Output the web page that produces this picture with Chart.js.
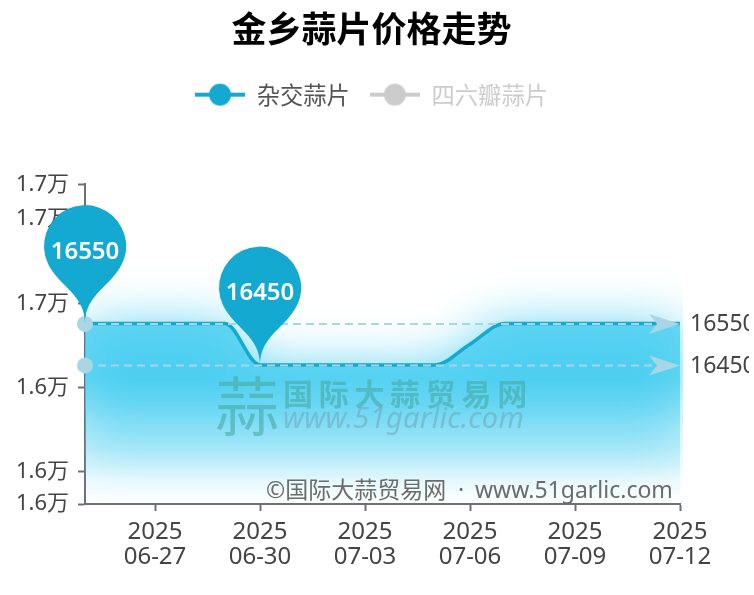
<!DOCTYPE html>
<html>
<head>
<meta charset="utf-8">
<title>金乡蒜片价格走势</title>
<script src="https://cdn.jsdelivr.net/npm/chart.js@4/dist/chart.umd.min.js"></script>
<style>
    html, body { margin: 0; padding: 0; background: #fff; }
    #wrap { position: relative; width: 749px; height: 595px; }
</style>
</head>
<body>
<div id="wrap"><canvas id="priceChart"></canvas></div>
<script>
var dates = ["2025-06-25", "2025-06-26", "2025-06-27", "2025-06-28", "2025-06-29", "2025-06-30",
    "2025-07-01", "2025-07-02", "2025-07-03", "2025-07-04", "2025-07-05", "2025-07-06",
    "2025-07-07", "2025-07-08", "2025-07-09", "2025-07-10", "2025-07-11", "2025-07-12"];
var hybridValues = [16550, 16550, 16550, 16550, 16550, 16450,
    16450, 16450, 16450, 16450, 16450, 16500,
    16550, 16550, 16550, 16550, 16550, 16550];
var sixCloveValues = []; // series is switched off in the legend
var xTickDates = ["2025-06-27", "2025-06-30", "2025-07-03", "2025-07-06", "2025-07-09", "2025-07-12"];
var yTickValues = [16115, 16193, 16396, 16598, 16803, 16885];

var BLUE = "#14a9d1";
var MARK = "#a9d6e5";
var FONT = '"Noto Sans", "Noto Sans CJK SC", sans-serif';
var CJK = '"Noto Sans CJK SC", sans-serif';

// legend icon: short line with a dot on it
function legendIcon(color) {
    var c = document.createElement("canvas");
    c.width = 50;
    c.height = 24;
    var x = c.getContext("2d");
    x.fillStyle = color;
    x.fillRect(0, 10, 50, 4);
    x.beginPath();
    x.arc(25, 12, 11, 0, Math.PI * 2);
    x.fill();
    return c;
}

// same outline as an echarts "pin" symbol, tip at (x, y)
function pinPath(ctx, x, y, r, h) {
    var dy = r * r / (h - r);
    var cy = y - h + r + dy;
    var angle = Math.asin(dy / r);
    var dx = Math.cos(angle) * r;
    var tanX = Math.sin(angle);
    var tanY = Math.cos(angle);
    var cpLen = r * 0.6;
    var cpLen2 = r * 0.7;
    ctx.beginPath();
    ctx.moveTo(x - dx, cy + dy);
    ctx.arc(x, cy, r, Math.PI - angle, Math.PI * 2 + angle);
    ctx.bezierCurveTo(x + dx - tanX * cpLen, cy + dy + tanY * cpLen, x, y - cpLen2, x, y);
    ctx.bezierCurveTo(x, y - cpLen2, x - dx + tanX * cpLen, cy + dy + tanY * cpLen, x - dx, cy + dy);
    ctx.closePath();
    return cy;
}

var legendGap = {
    id: "legendGap",
    beforeInit: function (chart) {
        var fit = chart.legend.fit;
        chart.legend.fit = function () {
            fit.call(this);
            this.height += 68;
        };
    }
};

// area under the line, with the blur that spills above it
var glowArea = {
    id: "glowArea",
    beforeDatasetsDraw: function (chart) {
        var ctx = chart.ctx;
        var area = chart.chartArea;
        var y = chart.scales.y;
        var line = chart.getDatasetMeta(0).dataset;
        var top = y.getPixelForValue(Math.max.apply(null, hybridValues));
        var grad = ctx.createLinearGradient(0, top, 0, area.bottom);
        // the shadow stacks on the fill, so these alphas are lower than what shows
        grad.addColorStop(0, "rgba(70,205,240,0.8)");
        grad.addColorStop(0.3, "rgba(70,205,240,0.8)");
        grad.addColorStop(0.42, "rgba(70,205,240,0.62)");
        grad.addColorStop(0.54, "rgba(70,205,240,0.45)");
        grad.addColorStop(0.7, "rgba(70,205,240,0.28)");
        grad.addColorStop(0.87, "rgba(70,205,240,0.08)");
        grad.addColorStop(1, "rgba(70,205,240,0)");

        ctx.save();
        ctx.beginPath();
        ctx.rect(area.left, area.top, area.right - area.left + 3, area.bottom - area.top);
        ctx.clip();
        line.updateControlPoints(area, "x");
        ctx.beginPath();
        line.path(ctx);
        ctx.lineTo(area.right, area.bottom);
        ctx.lineTo(area.left, area.bottom);
        ctx.closePath();
        ctx.shadowColor = "#46cdf0";
        ctx.shadowBlur = 50;
        ctx.fillStyle = grad;
        ctx.fill();
        ctx.restore();

        // watermark sits between the area and the line
        ctx.save();
        ctx.textBaseline = "middle";
        ctx.fillStyle = "rgba(70,170,165,0.6)";
        ctx.font = "64px " + CJK;
        ctx.fillText("蒜", 215, 406);
        ctx.font = "bold 30px " + CJK;
        ctx.letterSpacing = "5.7px";
        ctx.fillText("国际大蒜贸易网", 283, 394);
        ctx.letterSpacing = "0px";
        ctx.fillStyle = "rgba(110,170,190,0.6)";
        ctx.font = "italic 29px " + FONT;
        ctx.letterSpacing = "0.3px";
        ctx.fillText("www.51garlic.com", 283, 420);
        ctx.letterSpacing = "0px";
        ctx.fillStyle = "#6b6b6b";
        ctx.font = "23px " + FONT;
        ctx.fillText("©国际大蒜贸易网", 266, 491);
        ctx.fillText("·", 458, 491);
        ctx.fillText("www.51garlic.com", 475, 491);
        ctx.restore();
    }
};

// mark lines and mark points, placed through the chart's scales
var marks = {
    id: "marks",
    afterDatasetsDraw: function (chart) {
        var ctx = chart.ctx;
        var area = chart.chartArea;
        var xs = chart.scales.x;
        var ys = chart.scales.y;
        var maxVal = Math.max.apply(null, hybridValues);
        var minVal = Math.min.apply(null, hybridValues);

        ctx.save();
        [maxVal, minVal].forEach(function (v) {
            var py = ys.getPixelForValue(v) + 0.5;
            ctx.strokeStyle = MARK;
            ctx.lineWidth = 2;
            ctx.setLineDash([8, 5]);
            ctx.beginPath();
            ctx.moveTo(area.left, py);
            ctx.lineTo(area.right - 20, py);
            ctx.stroke();
            ctx.setLineDash([]);

            ctx.fillStyle = MARK;
            ctx.beginPath();
            ctx.arc(area.left, py, 8, 0, Math.PI * 2);
            ctx.fill();

            ctx.beginPath();
            ctx.moveTo(area.right, py);
            ctx.lineTo(area.right - 31, py - 10);
            ctx.lineTo(area.right - 23, py);
            ctx.lineTo(area.right - 31, py + 10);
            ctx.closePath();
            ctx.fill();

            ctx.fillStyle = "#444";
            ctx.font = "23px " + FONT;
            ctx.textBaseline = "middle";
            ctx.fillText(String(v), area.right + 10, py + 1);
        });

        [maxVal, minVal].forEach(function (v) {
            var i = hybridValues.indexOf(v);
            var tipX = xs.getPixelForValue(i);
            var tipY = ys.getPixelForValue(v);
            var cy = pinPath(ctx, tipX, tipY, 41, 136);
            ctx.fillStyle = BLUE;
            ctx.fill();
            ctx.fillStyle = "#fff";
            ctx.font = "600 24px " + FONT;
            ctx.textAlign = "center";
            ctx.textBaseline = "middle";
            ctx.fillText(String(v), tipX, cy + 6);
            ctx.textAlign = "left";
        });
        ctx.restore();
    }
};

var chart = new Chart(document.getElementById("priceChart"), {
    type: "line",
    plugins: [legendGap, glowArea, marks],
    data: {
        labels: dates,
        datasets: [{
            label: "杂交蒜片",
            data: hybridValues,
            borderColor: BLUE,
            borderWidth: 3.5,
            pointRadius: 0,
            cubicInterpolationMode: "monotone",
            fill: false
        }, {
            label: "四六瓣蒜片",
            data: sixCloveValues,
            hidden: true,
            borderColor: "#ccc",
            pointRadius: 0
        }]
    },
    options: {
        responsive: true,
        maintainAspectRatio: false,
        animation: false,
        layout: { padding: { top: 8, right: 6, left: 0, bottom: 0 } },
        plugins: {
            tooltip: { enabled: false },
            title: {
                display: true,
                text: "金乡蒜片价格走势",
                color: "#000",
                font: { family: CJK, size: 35, weight: "bold", lineHeight: 1.2 },
                padding: { top: 0, bottom: 13 }
            },
            legend: {
                display: true,
                labels: {
                    usePointStyle: true,
                    pointStyleWidth: 50,
                    padding: 20,
                    font: { family: CJK, size: 23.3 },
                    generateLabels: function () {
                        return [
                            { text: "杂交蒜片", fontColor: "#555", pointStyle: legendIcon(BLUE), datasetIndex: 0 },
                            { text: "四六瓣蒜片", fontColor: "#ccc", pointStyle: legendIcon("#ccc"), datasetIndex: 1 }
                        ];
                    }
                }
            }
        },
        scales: {
            x: {
                type: "category",
                afterBuildTicks: function (axis) {
                    axis.ticks = axis.ticks.filter(function (t) {
                        return xTickDates.indexOf(dates[t.value]) >= 0;
                    });
                },
                afterFit: function (axis) { axis.height = 91; },
                border: { color: "#6e7079", width: 2 },
                grid: { drawOnChartArea: false, tickColor: "#6e7079", tickWidth: 2, tickLength: 7 },
                ticks: {
                    autoSkip: false,
                    maxRotation: 0,
                    padding: 9,
                    color: "#444",
                    font: { family: FONT, size: 24, lineHeight: 1.04 },
                    callback: function (value) {
                        var d = dates[value];
                        return [d.slice(0, 4), d.slice(5)];
                    }
                }
            },
            y: {
                min: 16115,
                max: 16885,
                afterBuildTicks: function (axis) {
                    axis.ticks = yTickValues.map(function (v) { return { value: v }; });
                },
                afterFit: function (axis) { axis.width = 85; },
                border: { color: "#6e7079", width: 2 },
                grid: { drawOnChartArea: false, tickColor: "#6e7079", tickWidth: 2, tickLength: 7 },
                ticks: {
                    padding: 9,
                    color: "#444",
                    font: { family: FONT, size: 22 },
                    callback: function (value) {
                        return (value / 10000).toFixed(1) + "万";
                    }
                }
            },
            // empty axis only holds the room for the mark line labels, so title and legend stay centred
            yRight: {
                position: "right",
                display: true,
                afterFit: function (axis) { axis.width = 63; },
                border: { display: false },
                grid: { display: false },
                ticks: { display: false }
            }
        }
    }
});
</script>
</body>
</html>
